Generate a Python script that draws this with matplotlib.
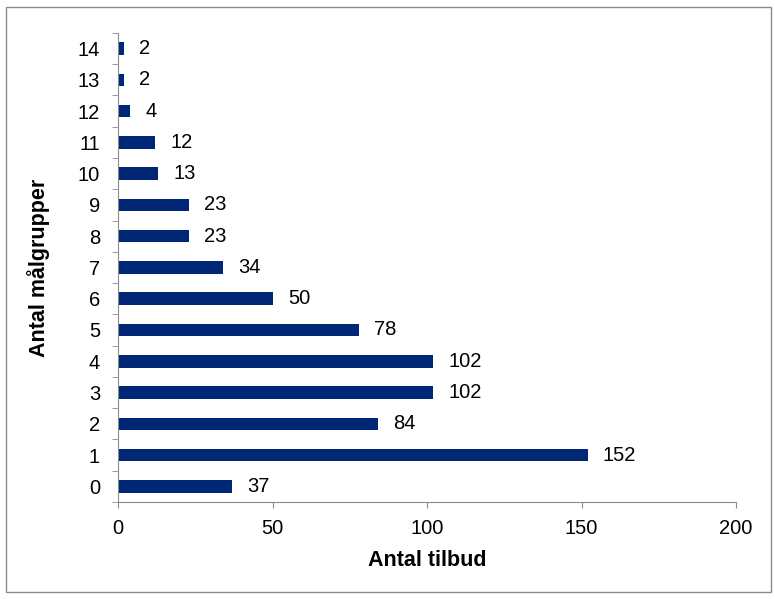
import numpy as np
import matplotlib.pyplot as plt
from matplotlib.patches import Rectangle

# antal målgrupper (0-14) og antal tilbud
groups = list(range(15))
offers = [37, 152, 84, 102, 102, 78, 50, 34, 23, 23, 13, 12, 4, 2, 2]

plt.rcParams['font.family'] = ['Liberation Sans', 'DejaVu Sans']
grey = '#8c8c8c'
navy = '#002776'
fs = 14.5

fig = plt.figure(figsize=(7.75, 5.99), dpi=100)
ax = fig.add_axes([0.1523, 0.162, 0.7974, 0.783])

ax.barh(groups, offers, height=0.4, color=navy)
for g, v in zip(groups, offers):
    ax.annotate(str(v), (v, g), xytext=(11, 0), textcoords='offset points',
                va='center', ha='left', fontsize=fs)

ax.set_xlim(0, 200)
ax.set_ylim(-0.5, 14.5)
ax.set_xticks([0, 50, 100, 150, 200])
ax.set_yticks(groups)
ax.set_yticks(np.arange(-0.5, 15, 1), minor=True)
ax.tick_params(axis='y', which='major', length=0, pad=13, labelsize=fs)
ax.tick_params(axis='y', which='minor', length=4, color=grey, direction='out')
ax.tick_params(axis='x', length=4, color=grey, direction='out', pad=8, labelsize=fs)

for s in ['top', 'right']:
    ax.spines[s].set_visible(False)
for s in ['left', 'bottom']:
    ax.spines[s].set_color(grey)

ax.set_xlabel('Antal tilbud', fontsize=15.5, fontweight='bold', labelpad=9)
ax.set_ylabel('Antal målgrupper', fontsize=15.5, fontweight='bold', labelpad=20)

fig.patches.append(Rectangle((0.008, 0.012), 0.987, 0.977, transform=fig.transFigure,
                             fill=False, edgecolor=grey, linewidth=1))

fig.savefig('out.png', dpi=100)
